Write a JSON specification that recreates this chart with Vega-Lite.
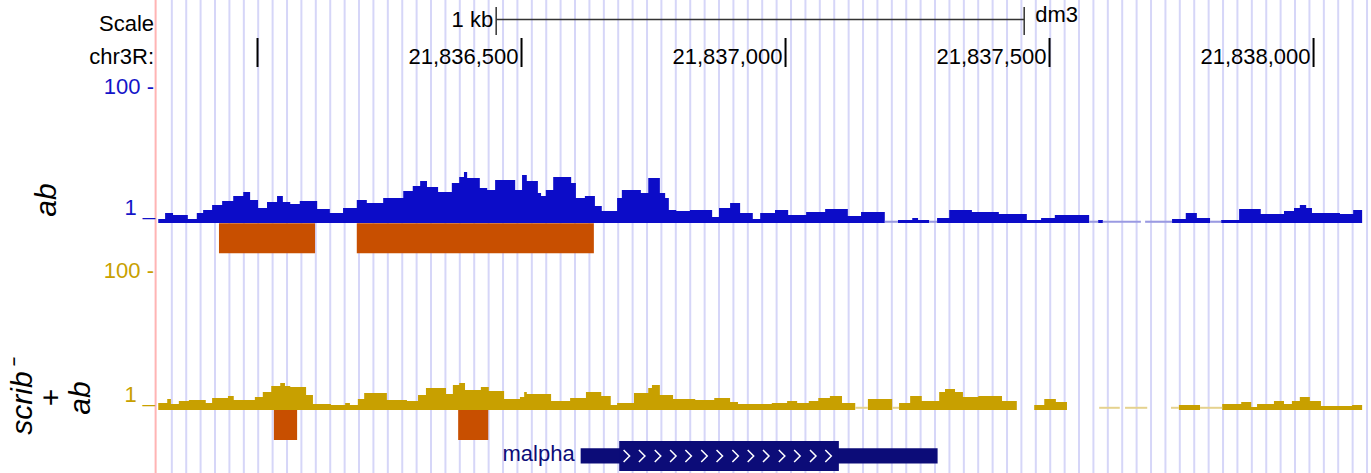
{
  "$schema": "https://vega.github.io/schema/vega-lite/v6.json",
  "width": 1371,
  "height": 473,
  "padding": 0,
  "autosize": {"type": "none"},
  "background": "white",
  "config": {"view": {"stroke": null}, "text": {"font": "Liberation Sans", "fontSize": 22}},
  "datasets": {
    "grid": [21835837.7,21835865.0,21835892.2,21835919.5,21835946.8,21835974.1,21836001.3,21836028.6,21836055.9,21836083.1,21836110.4,21836137.7,21836165.0,21836192.2,21836219.5,21836246.8,21836274.1,21836301.3,21836328.6,21836355.9,21836383.1,21836410.4,21836437.7,21836465.0,21836492.2,21836519.5,21836546.8,21836574.0,21836601.3,21836628.6,21836655.9,21836683.1,21836710.4,21836737.7,21836764.9,21836792.2,21836819.5,21836846.8,21836874.0,21836901.3,21836928.6,21836955.8,21836983.1,21837010.4,21837037.7,21837064.9,21837092.2,21837119.5,21837146.8,21837174.0,21837201.3,21837228.6,21837255.8,21837283.1,21837310.4,21837337.7,21837364.9,21837392.2,21837419.5,21837446.7,21837474.0,21837501.3,21837528.6,21837555.8,21837583.1,21837610.4,21837637.6,21837664.9,21837692.2,21837719.5,21837746.7,21837774.0,21837801.3,21837828.6,21837855.8,21837883.1,21837910.4,21837937.6,21837964.9,21837992.2,21838019.5,21838046.7,21838074.0,21838101.3],
    "ticks": [
      {"pos": 21836000, "label": ""},
      {"pos": 21836500, "label": "21,836,500"},
      {"pos": 21837000, "label": "21,837,000"},
      {"pos": 21837500, "label": "21,837,500"},
      {"pos": 21838000, "label": "21,838,000"}
    ],
    "scalebar": [{"start": 21836452, "end": 21837452, "label": "1 kb", "assembly": "dm3"}],
    "ab": [{"pos":21835812,"cov":2.9},{"pos":21835825,"cov":7.3},{"pos":21835840,"cov":5.8},{"pos":21835868,"cov":2.9},{"pos":21835885,"cov":7.3},{"pos":21835897,"cov":9.5},{"pos":21835914,"cov":13.1},{"pos":21835933,"cov":16.1},{"pos":21835954,"cov":19.7},{"pos":21835973,"cov":22.6},{"pos":21835986,"cov":16.8},{"pos":21836001,"cov":11},{"pos":21836018,"cov":15.3},{"pos":21836037,"cov":19.7},{"pos":21836048,"cov":15.3},{"pos":21836062,"cov":13.9},{"pos":21836080,"cov":16.1},{"pos":21836113,"cov":10.2},{"pos":21836137,"cov":7.3},{"pos":21836162,"cov":11},{"pos":21836188,"cov":16.8},{"pos":21836207,"cov":14.6},{"pos":21836238,"cov":18.3},{"pos":21836276,"cov":23.4},{"pos":21836294,"cov":27},{"pos":21836308,"cov":30.7},{"pos":21836321,"cov":26.3},{"pos":21836342,"cov":22.6},{"pos":21836368,"cov":29.2},{"pos":21836382,"cov":33.6},{"pos":21836391,"cov":37.2},{"pos":21836397,"cov":32.8},{"pos":21836421,"cov":25.6},{"pos":21836435,"cov":24.1},{"pos":21836450,"cov":31.4},{"pos":21836488,"cov":24.1},{"pos":21836501,"cov":35},{"pos":21836510,"cov":30.7},{"pos":21836531,"cov":21.9},{"pos":21836537,"cov":19.7},{"pos":21836546,"cov":24.1},{"pos":21836560,"cov":33.6},{"pos":21836594,"cov":29.2},{"pos":21836603,"cov":18.3},{"pos":21836620,"cov":19.7},{"pos":21836639,"cov":12.4},{"pos":21836652,"cov":8.8},{"pos":21836681,"cov":18.3},{"pos":21836690,"cov":24.1},{"pos":21836726,"cov":21.9},{"pos":21836740,"cov":32.8},{"pos":21836762,"cov":21.9},{"pos":21836772,"cov":18.3},{"pos":21836779,"cov":9.5},{"pos":21836793,"cov":8.8},{"pos":21836819,"cov":9.5},{"pos":21836861,"cov":4.4},{"pos":21836874,"cov":11},{"pos":21836895,"cov":14.6},{"pos":21836914,"cov":7.3},{"pos":21836938,"cov":2.9},{"pos":21836952,"cov":7.3},{"pos":21836980,"cov":9.5},{"pos":21837005,"cov":5.8},{"pos":21837039,"cov":8},{"pos":21837075,"cov":10.2},{"pos":21837118,"cov":5.1},{"pos":21837143,"cov":8},{"pos":21837188,"cov":0},{"pos":21837213,"cov":2.2},{"pos":21837240,"cov":3.7},{"pos":21837251,"cov":2.2},{"pos":21837272,"cov":0},{"pos":21837287,"cov":3.7},{"pos":21837310,"cov":9.5},{"pos":21837353,"cov":8},{"pos":21837404,"cov":6.6},{"pos":21837457,"cov":2.2},{"pos":21837484,"cov":3.7},{"pos":21837510,"cov":5.8},{"pos":21837575,"cov":0},{"pos":21837592,"cov":2.2},{"pos":21837601,"cov":0},{"pos":21837732,"cov":2.9},{"pos":21837758,"cov":7.3},{"pos":21837779,"cov":3.7},{"pos":21837804,"cov":0},{"pos":21837825,"cov":2.2},{"pos":21837859,"cov":10.2},{"pos":21837900,"cov":6.6},{"pos":21837944,"cov":8.8},{"pos":21837963,"cov":11},{"pos":21837974,"cov":13.1},{"pos":21837986,"cov":11},{"pos":21837997,"cov":7.3},{"pos":21838050,"cov":6.6},{"pos":21838075,"cov":9.5},{"pos":21838092,"cov":9.5}],
    "scrib": [{"pos":21835812,"cov":5},{"pos":21835829,"cov":7.9},{"pos":21835836,"cov":4.3},{"pos":21835851,"cov":6.4},{"pos":21835870,"cov":7.1},{"pos":21835902,"cov":5},{"pos":21835914,"cov":8.6},{"pos":21835944,"cov":10},{"pos":21835955,"cov":7.1},{"pos":21835995,"cov":9.3},{"pos":21836010,"cov":12.9},{"pos":21836026,"cov":17.1},{"pos":21836043,"cov":19.3},{"pos":21836052,"cov":17.1},{"pos":21836062,"cov":16.4},{"pos":21836092,"cov":10.7},{"pos":21836105,"cov":4.3},{"pos":21836139,"cov":3.6},{"pos":21836166,"cov":5},{"pos":21836175,"cov":3.6},{"pos":21836190,"cov":7.9},{"pos":21836202,"cov":12.1},{"pos":21836245,"cov":7.1},{"pos":21836283,"cov":6.4},{"pos":21836304,"cov":10.7},{"pos":21836319,"cov":15.7},{"pos":21836357,"cov":11.4},{"pos":21836370,"cov":17.9},{"pos":21836382,"cov":19.3},{"pos":21836393,"cov":14.3},{"pos":21836423,"cov":16.4},{"pos":21836438,"cov":13.6},{"pos":21836467,"cov":7.9},{"pos":21836497,"cov":9.3},{"pos":21836505,"cov":12.9},{"pos":21836510,"cov":11.4},{"pos":21836556,"cov":6.4},{"pos":21836592,"cov":8.6},{"pos":21836622,"cov":12.9},{"pos":21836651,"cov":10},{"pos":21836669,"cov":3.6},{"pos":21836681,"cov":5},{"pos":21836713,"cov":12.1},{"pos":21836740,"cov":15.7},{"pos":21836747,"cov":17.9},{"pos":21836762,"cov":10.7},{"pos":21836787,"cov":7.9},{"pos":21836829,"cov":7.1},{"pos":21836865,"cov":8.6},{"pos":21836895,"cov":5.7},{"pos":21836910,"cov":4.3},{"pos":21836974,"cov":5},{"pos":21837003,"cov":6.4},{"pos":21837022,"cov":5},{"pos":21837044,"cov":6.4},{"pos":21837062,"cov":8.6},{"pos":21837084,"cov":10},{"pos":21837107,"cov":5},{"pos":21837132,"cov":0},{"pos":21837156,"cov":7.9},{"pos":21837202,"cov":0},{"pos":21837215,"cov":5},{"pos":21837236,"cov":10},{"pos":21837258,"cov":6.4},{"pos":21837291,"cov":12.9},{"pos":21837302,"cov":15},{"pos":21837321,"cov":12.9},{"pos":21837336,"cov":9.3},{"pos":21837365,"cov":10},{"pos":21837410,"cov":6.4},{"pos":21837438,"cov":0},{"pos":21837471,"cov":3.6},{"pos":21837490,"cov":7.9},{"pos":21837512,"cov":5.7},{"pos":21837533,"cov":0},{"pos":21837745,"cov":3.6},{"pos":21837785,"cov":0},{"pos":21837827,"cov":4.3},{"pos":21837863,"cov":5.7},{"pos":21837882,"cov":2.1},{"pos":21837893,"cov":4.3},{"pos":21837925,"cov":6.4},{"pos":21837944,"cov":4.3},{"pos":21837959,"cov":6.4},{"pos":21837974,"cov":9.3},{"pos":21837993,"cov":6.4},{"pos":21838014,"cov":2.9},{"pos":21838073,"cov":3.6},{"pos":21838092,"cov":3.6}],
    "abZero": [{"start":21837188,"end":21837213},{"start":21837272,"end":21837287},{"start":21837575,"end":21837592},{"start":21837601,"end":21837673},{"start":21837681,"end":21837732},{"start":21837804,"end":21837825}],
    "scribZero": [{"start":21837132,"end":21837156},{"start":21837202,"end":21837215},{"start":21837594,"end":21837633},{"start":21837643,"end":21837685},{"start":21837730,"end":21837745},{"start":21837785,"end":21837827}],
    "abPeaks": [{"start":21835927,"end":21836109},{"start":21836188,"end":21836637}],
    "scribPeaks": [{"start":21836031,"end":21836075},{"start":21836380,"end":21836437}],
    "gene": [{"name":"malpha","txStart":21836612,"txEnd":21837288,"cdsStart":21836685,"cdsEnd":21837101}],
    "chevrons": [21836699,21836728,21836758,21836787,21836816,21836846,21836875,21836905,21836934,21836963,21836993,21837022,21837052,21837081]
  },
  "resolve": {"scale": {"y": "independent"}},
  "layer": [
    {
      "data": {"name": "grid"},
      "mark": {"type": "rule", "color": "#d6d6f8", "strokeWidth": 2},
      "encoding": {"x": {"field": "data", "type": "quantitative", "axis": null, "scale": {"domain": [21835512.3, 21838108.8], "nice": false, "zero": false}}}
    },
    {
      "data": {"values": [{}]},
      "mark": {"type": "rule", "color": "#ffb4b4", "strokeWidth": 2},
      "encoding": {"x": {"datum": 21835807, "type": "quantitative", "axis": null, "scale": {"domain": [21835512.3, 21838108.8], "nice": false, "zero": false}}}
    },
    {
      "data": {"name": "ticks"},
      "mark": {"type": "rule", "color": "black", "strokeWidth": 2},
      "encoding": {
        "x": {"field": "pos", "type": "quantitative", "axis": null, "scale": {"domain": [21835512.3, 21838108.8], "nice": false, "zero": false}},
        "y": {"datum": 38, "type": "quantitative", "axis": null, "scale": {"domain": [0, 473], "range": [0, 473], "nice": false, "zero": false}},
        "y2": {"datum": 67}
      }
    },
    {
      "data": {"name": "ticks"},
      "mark": {"type": "text", "align": "right", "baseline": "alphabetic", "dx": -3, "color": "black", "font": "Liberation Sans", "fontSize": 22},
      "encoding": {
        "x": {"field": "pos", "type": "quantitative", "axis": null, "scale": {"domain": [21835512.3, 21838108.8], "nice": false, "zero": false}},
        "y": {"datum": 63.5, "type": "quantitative", "axis": null, "scale": {"domain": [0, 473], "range": [0, 473], "nice": false, "zero": false}},
        "text": {"field": "label"}
      }
    },
    {
      "data": {"name": "scalebar"},
      "mark": {"type": "rule", "color": "#333333", "strokeWidth": 1.5},
      "encoding": {
        "x": {"field": "start", "type": "quantitative", "axis": null, "scale": {"domain": [21835512.3, 21838108.8], "nice": false, "zero": false}},
        "x2": {"field": "end"},
        "y": {"datum": 19.5, "type": "quantitative", "axis": null, "scale": {"domain": [0, 473], "range": [0, 473], "nice": false, "zero": false}}
      }
    },
    {
      "data": {"name": "scalebar"},
      "mark": {"type": "rule", "color": "#333333", "strokeWidth": 1.5},
      "encoding": {
        "x": {"field": "start", "type": "quantitative", "axis": null, "scale": {"domain": [21835512.3, 21838108.8], "nice": false, "zero": false}},
        "y": {"datum": 7, "type": "quantitative", "axis": null, "scale": {"domain": [0, 473], "range": [0, 473], "nice": false, "zero": false}},
        "y2": {"datum": 35}
      }
    },
    {
      "data": {"name": "scalebar"},
      "mark": {"type": "rule", "color": "#333333", "strokeWidth": 1.5},
      "encoding": {
        "x": {"field": "end", "type": "quantitative", "axis": null, "scale": {"domain": [21835512.3, 21838108.8], "nice": false, "zero": false}},
        "y": {"datum": 7, "type": "quantitative", "axis": null, "scale": {"domain": [0, 473], "range": [0, 473], "nice": false, "zero": false}},
        "y2": {"datum": 35}
      }
    },
    {
      "data": {"name": "scalebar"},
      "mark": {"type": "text", "align": "right", "baseline": "alphabetic", "dx": -3, "color": "black", "font": "Liberation Sans", "fontSize": 22},
      "encoding": {
        "x": {"field": "start", "type": "quantitative", "axis": null, "scale": {"domain": [21835512.3, 21838108.8], "nice": false, "zero": false}},
        "y": {"datum": 27, "type": "quantitative", "axis": null, "scale": {"domain": [0, 473], "range": [0, 473], "nice": false, "zero": false}},
        "text": {"field": "label"}
      }
    },
    {
      "data": {"name": "scalebar"},
      "mark": {"type": "text", "align": "left", "baseline": "alphabetic", "dx": 11, "color": "black", "font": "Liberation Sans", "fontSize": 22},
      "encoding": {
        "x": {"field": "end", "type": "quantitative", "axis": null, "scale": {"domain": [21835512.3, 21838108.8], "nice": false, "zero": false}},
        "y": {"datum": 22, "type": "quantitative", "axis": null, "scale": {"domain": [0, 473], "range": [0, 473], "nice": false, "zero": false}},
        "text": {"field": "assembly"}
      }
    },
    {
      "data": {"values": [{}]},
      "mark": {"type": "text", "text": "Scale", "align": "right", "baseline": "alphabetic", "color": "black", "font": "Liberation Sans", "fontSize": 22},
      "encoding": {
        "x": {"datum": 21835804, "type": "quantitative", "axis": null, "scale": {"domain": [21835512.3, 21838108.8], "nice": false, "zero": false}},
        "y": {"datum": 30.7, "type": "quantitative", "axis": null, "scale": {"domain": [0, 473], "range": [0, 473], "nice": false, "zero": false}}
      }
    },
    {
      "data": {"values": [{}]},
      "mark": {"type": "text", "text": "chr3R:", "align": "right", "baseline": "alphabetic", "color": "black", "font": "Liberation Sans", "fontSize": 22},
      "encoding": {
        "x": {"datum": 21835804, "type": "quantitative", "axis": null, "scale": {"domain": [21835512.3, 21838108.8], "nice": false, "zero": false}},
        "y": {"datum": 64, "type": "quantitative", "axis": null, "scale": {"domain": [0, 473], "range": [0, 473], "nice": false, "zero": false}}
      }
    },
    {
      "data": {"values": [{}]},
      "mark": {"type": "text", "text": "100 -", "align": "right", "baseline": "alphabetic", "color": "#1414c8", "font": "Liberation Sans", "fontSize": 22},
      "encoding": {
        "x": {"datum": 21835804, "type": "quantitative", "axis": null, "scale": {"domain": [21835512.3, 21838108.8], "nice": false, "zero": false}},
        "y": {"datum": 94, "type": "quantitative", "axis": null, "scale": {"domain": [0, 473], "range": [0, 473], "nice": false, "zero": false}}
      }
    },
    {
      "data": {"values": [{}]},
      "mark": {"type": "text", "text": "1 _", "align": "right", "baseline": "alphabetic", "color": "#1414c8", "font": "Liberation Sans", "fontSize": 22},
      "encoding": {
        "x": {"datum": 21835806, "type": "quantitative", "axis": null, "scale": {"domain": [21835512.3, 21838108.8], "nice": false, "zero": false}},
        "y": {"datum": 215, "type": "quantitative", "axis": null, "scale": {"domain": [0, 473], "range": [0, 473], "nice": false, "zero": false}}
      }
    },
    {
      "data": {"values": [{}]},
      "mark": {"type": "text", "text": "100 -", "align": "right", "baseline": "alphabetic", "color": "#c8a000", "font": "Liberation Sans", "fontSize": 22},
      "encoding": {
        "x": {"datum": 21835804, "type": "quantitative", "axis": null, "scale": {"domain": [21835512.3, 21838108.8], "nice": false, "zero": false}},
        "y": {"datum": 278, "type": "quantitative", "axis": null, "scale": {"domain": [0, 473], "range": [0, 473], "nice": false, "zero": false}}
      }
    },
    {
      "data": {"values": [{}]},
      "mark": {"type": "text", "text": "1 _", "align": "right", "baseline": "alphabetic", "color": "#c8a000", "font": "Liberation Sans", "fontSize": 22},
      "encoding": {
        "x": {"datum": 21835806, "type": "quantitative", "axis": null, "scale": {"domain": [21835512.3, 21838108.8], "nice": false, "zero": false}},
        "y": {"datum": 401.7, "type": "quantitative", "axis": null, "scale": {"domain": [0, 473], "range": [0, 473], "nice": false, "zero": false}}
      }
    },
    {
      "data": {"name": "ab"},
      "mark": {"type": "area", "interpolate": "step-after", "color": "#0c0cc8"},
      "encoding": {
        "x": {"field": "pos", "type": "quantitative", "axis": null, "scale": {"domain": [21835512.3, 21838108.8], "nice": false, "zero": false}},
        "y": {"field": "cov", "type": "quantitative", "axis": null, "stack": null, "scale": {"domain": [0, 100], "range": [223, 86], "nice": false, "zero": false}}
      }
    },
    {
      "data": {"name": "abZero"},
      "mark": {"type": "rect", "color": "#9a9ae2"},
      "encoding": {
        "x": {"field": "start", "type": "quantitative", "axis": null, "scale": {"domain": [21835512.3, 21838108.8], "nice": false, "zero": false}},
        "x2": {"field": "end"},
        "y": {"datum": 220.7, "type": "quantitative", "axis": null, "scale": {"domain": [0, 473], "range": [0, 473], "nice": false, "zero": false}},
        "y2": {"datum": 222.8}
      }
    },
    {
      "data": {"name": "abPeaks"},
      "mark": {"type": "rect", "color": "#c84f00"},
      "encoding": {
        "x": {"field": "start", "type": "quantitative", "axis": null, "scale": {"domain": [21835512.3, 21838108.8], "nice": false, "zero": false}},
        "x2": {"field": "end"},
        "y": {"datum": 223.3, "type": "quantitative", "axis": null, "scale": {"domain": [0, 473], "range": [0, 473], "nice": false, "zero": false}},
        "y2": {"datum": 253.3}
      }
    },
    {
      "data": {"name": "scrib"},
      "mark": {"type": "area", "interpolate": "step-after", "color": "#c8a000"},
      "encoding": {
        "x": {"field": "pos", "type": "quantitative", "axis": null, "scale": {"domain": [21835512.3, 21838108.8], "nice": false, "zero": false}},
        "y": {"field": "cov", "type": "quantitative", "axis": null, "stack": null, "scale": {"domain": [0, 100], "range": [410, 270], "nice": false, "zero": false}}
      }
    },
    {
      "data": {"name": "scribZero"},
      "mark": {"type": "rect", "color": "#e5d28e"},
      "encoding": {
        "x": {"field": "start", "type": "quantitative", "axis": null, "scale": {"domain": [21835512.3, 21838108.8], "nice": false, "zero": false}},
        "x2": {"field": "end"},
        "y": {"datum": 406.8, "type": "quantitative", "axis": null, "scale": {"domain": [0, 473], "range": [0, 473], "nice": false, "zero": false}},
        "y2": {"datum": 408.8}
      }
    },
    {
      "data": {"name": "scribPeaks"},
      "mark": {"type": "rect", "color": "#c84f00"},
      "encoding": {
        "x": {"field": "start", "type": "quantitative", "axis": null, "scale": {"domain": [21835512.3, 21838108.8], "nice": false, "zero": false}},
        "x2": {"field": "end"},
        "y": {"datum": 410, "type": "quantitative", "axis": null, "scale": {"domain": [0, 473], "range": [0, 473], "nice": false, "zero": false}},
        "y2": {"datum": 440}
      }
    },
    {
      "data": {"name": "gene"},
      "mark": {"type": "rect", "color": "#0c0c78"},
      "encoding": {
        "x": {"field": "txStart", "type": "quantitative", "axis": null, "scale": {"domain": [21835512.3, 21838108.8], "nice": false, "zero": false}},
        "x2": {"field": "txEnd"},
        "y": {"datum": 448.3, "type": "quantitative", "axis": null, "scale": {"domain": [0, 473], "range": [0, 473], "nice": false, "zero": false}},
        "y2": {"datum": 463.5}
      }
    },
    {
      "data": {"name": "gene"},
      "mark": {"type": "rect", "color": "#0c0c78"},
      "encoding": {
        "x": {"field": "cdsStart", "type": "quantitative", "axis": null, "scale": {"domain": [21835512.3, 21838108.8], "nice": false, "zero": false}},
        "x2": {"field": "cdsEnd"},
        "y": {"datum": 441, "type": "quantitative", "axis": null, "scale": {"domain": [0, 473], "range": [0, 473], "nice": false, "zero": false}},
        "y2": {"datum": 471}
      }
    },
    {
      "data": {"name": "chevrons"},
      "mark": {"type": "point", "shape": "M-0.5,-1L0.5,0L-0.5,1", "size": 144, "filled": false, "stroke": "white", "strokeWidth": 1.5, "opacity": 1},
      "encoding": {
        "x": {"field": "data", "type": "quantitative", "axis": null, "scale": {"domain": [21835512.3, 21838108.8], "nice": false, "zero": false}},
        "y": {"datum": 456, "type": "quantitative", "axis": null, "scale": {"domain": [0, 473], "range": [0, 473], "nice": false, "zero": false}}
      }
    },
    {
      "data": {"name": "gene"},
      "mark": {"type": "text", "align": "right", "baseline": "alphabetic", "dx": -6, "color": "#0c0c78", "font": "Liberation Sans", "fontSize": 22},
      "encoding": {
        "x": {"field": "txStart", "type": "quantitative", "axis": null, "scale": {"domain": [21835512.3, 21838108.8], "nice": false, "zero": false}},
        "y": {"datum": 461, "type": "quantitative", "axis": null, "scale": {"domain": [0, 473], "range": [0, 473], "nice": false, "zero": false}},
        "text": {"field": "name"}
      }
    },
    {
      "data": {"values": [{}]},
      "mark": {"type": "text", "text": "ab", "angle": 270, "align": "center", "baseline": "middle", "fontStyle": "italic", "color": "black", "font": "Liberation Sans", "fontSize": 30},
      "encoding": {
        "x": {"datum": 21835601, "type": "quantitative", "axis": null, "scale": {"domain": [21835512.3, 21838108.8], "nice": false, "zero": false}},
        "y": {"datum": 200, "type": "quantitative", "axis": null, "scale": {"domain": [0, 473], "range": [0, 473], "nice": false, "zero": false}}
      }
    },
    {
      "data": {"values": [{}]},
      "mark": {"type": "text", "text": ["scrib⁻", "+", "ab"], "lineHeight": 29, "angle": 270, "align": "center", "baseline": "middle", "fontStyle": "italic", "color": "black", "font": "Liberation Sans", "fontSize": 30},
      "encoding": {
        "x": {"datum": 21835556, "type": "quantitative", "axis": null, "scale": {"domain": [21835512.3, 21838108.8], "nice": false, "zero": false}},
        "y": {"datum": 398, "type": "quantitative", "axis": null, "scale": {"domain": [0, 473], "range": [0, 473], "nice": false, "zero": false}}
      }
    }
  ]
}
